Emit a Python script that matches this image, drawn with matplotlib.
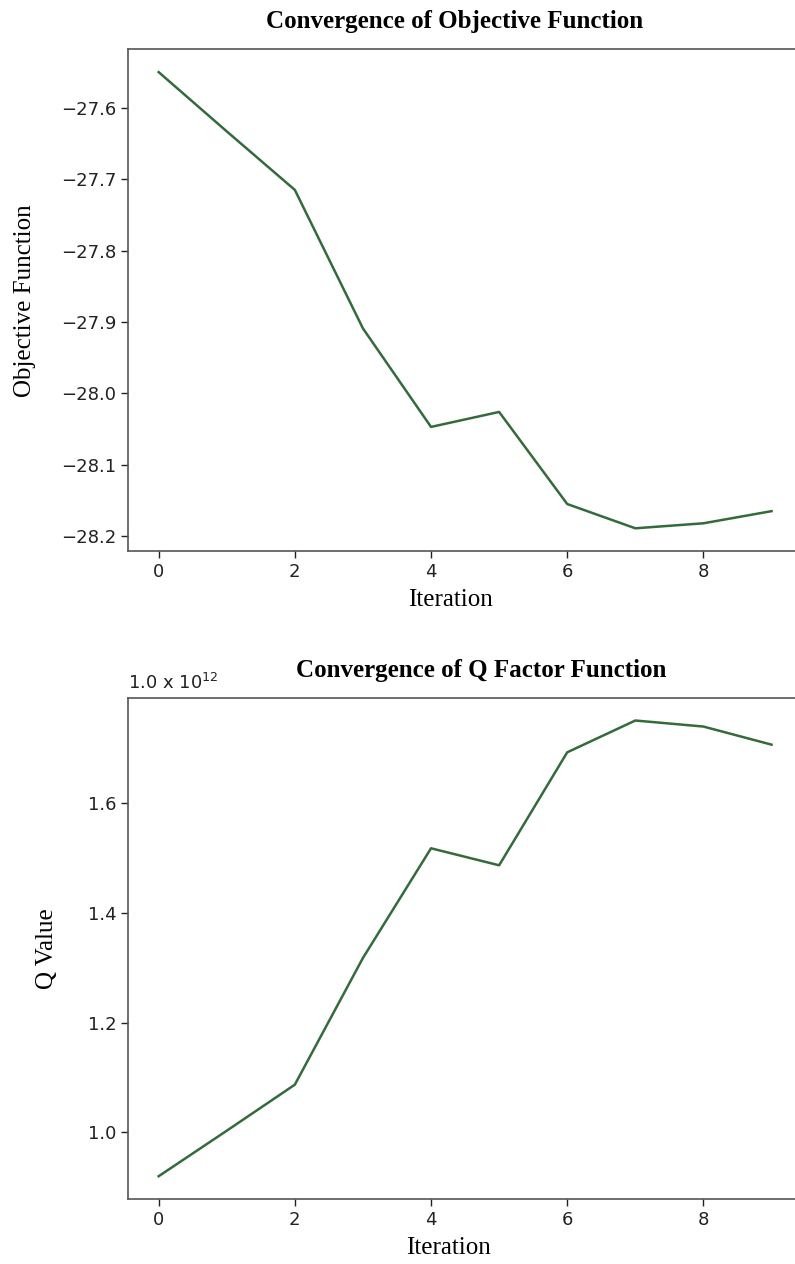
import matplotlib
matplotlib.use("Agg")
import matplotlib.pyplot as plt

# values
iterations = list(range(10))
objective = [-27.550, -27.633, -27.715, -27.909, -28.047, -28.026, -28.155, -28.189, -28.182, -28.165]
q_value = [0.920, 1.003, 1.087, 1.318, 1.518, 1.487, 1.693, 1.751, 1.740, 1.707]  # x 1e12

LINE_COLOR = "#336b3a"
SPINE_COLOR = "#555555"

fig = plt.figure(figsize=(7.95, 12.64), dpi=100)
ax1 = fig.add_axes([0.161, 0.564, 0.848, 0.397])
ax2 = fig.add_axes([0.161, 0.0514, 0.848, 0.3966])

title_font = dict(family="Liberation Serif", fontsize=18, fontweight="bold")
label_font = dict(family="Liberation Serif", fontsize=18)

for ax in (ax1, ax2):
    for sp in ax.spines.values():
        sp.set_color(SPINE_COLOR)
        sp.set_linewidth(1.2)
    ax.tick_params(labelsize=13, colors="#222222", length=5, width=1.0)
    ax.set_xticks([0, 2, 4, 6, 8])

# top panel
ax1.plot(iterations, objective, color=LINE_COLOR, linewidth=1.8)
ax1.set_title("Convergence of Objective Function", pad=15, x=0.484, **title_font)
ax1.set_xlabel("Iteration", labelpad=9, **label_font)
ax1.xaxis.set_label_coords(0.479, -0.075)
ax1.set_ylabel("Objective Function", labelpad=18, **label_font)

# bottom panel
ax2.plot(iterations, q_value, color=LINE_COLOR, linewidth=1.8)
ax2.set_title("Convergence of Q Factor Function", pad=15, x=0.524, **title_font)
ax2.set_xlabel("Iteration", labelpad=9, **label_font)
ax2.xaxis.set_label_coords(0.475, -0.075)
ax2.set_ylabel("Q Value", labelpad=21, **label_font)
ax2.set_yticks([1.0, 1.2, 1.4, 1.6])
ax2.text(0.0, 1.01, r"1.0 x 10$^{12}$", transform=ax2.transAxes,
         fontsize=13, ha="left", va="bottom", color="#222222")

fig.savefig("out.png", dpi=100)
